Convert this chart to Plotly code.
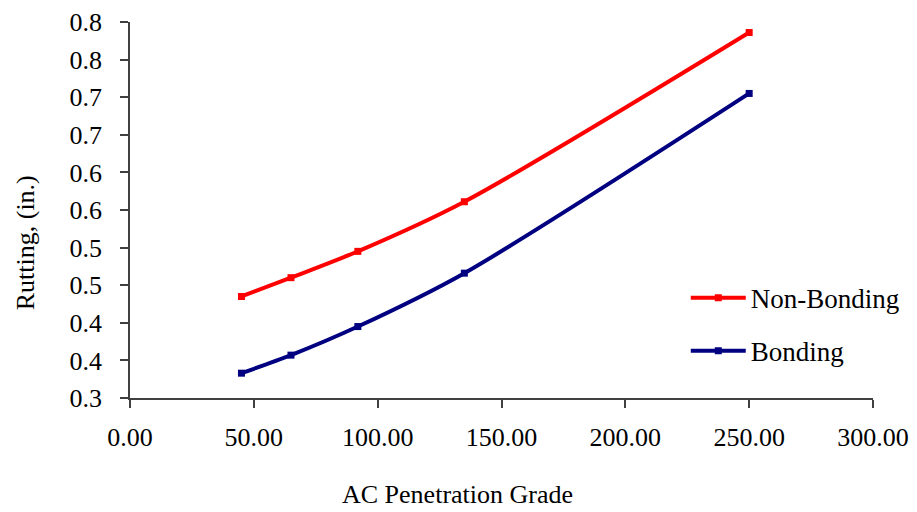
import plotly.graph_objects as go

# Data
grade = [45, 65, 92, 135, 250]
non_bonding = [0.435, 0.460, 0.495, 0.561, 0.786]
bonding = [0.333, 0.357, 0.395, 0.466, 0.705]

x_ticks = [0, 50, 100, 150, 200, 250, 300]
x_tick_text = ["0.00", "50.00", "100.00", "150.00", "200.00", "250.00", "300.00"]
y_ticks = [0.30, 0.35, 0.40, 0.45, 0.50, 0.55, 0.60, 0.65, 0.70, 0.75, 0.80]
y_tick_text = ["0.3", "0.4", "0.4", "0.5", "0.5", "0.6", "0.6", "0.7", "0.7", "0.8", "0.8"]

FONT = "Liberation Serif, Times New Roman, serif"

fig = go.Figure()
fig.add_trace(go.Scatter(
    x=grade, y=non_bonding, name="Non-Bonding", legendgroup="a",
    mode="lines+markers", line=dict(color="#FF0000", width=4, shape="spline", smoothing=0.8),
    marker=dict(symbol="square", size=7, color="#FF0000"),
))
fig.add_trace(go.Scatter(
    x=grade, y=bonding, name="Bonding", legendgroup="b",
    mode="lines+markers", line=dict(color="#000080", width=4, shape="spline", smoothing=0.8),
    marker=dict(symbol="square", size=7, color="#000080"),
))

axis_common = dict(
    showgrid=False, zeroline=False, showline=True, linecolor="#404040", linewidth=1.5,
    ticks="outside", ticklen=8, tickwidth=1.5, tickcolor="#404040", automargin=False,
    ticklabeloverflow="allow",
    tickfont=dict(family=FONT, size=26, color="black"),
)

# page body has an 8px margin, so the figure is sized 8px smaller
fig.update_layout(
    width=909, height=504,
    margin=dict(l=122, r=42, t=14, b=114),
    paper_bgcolor="white", plot_bgcolor="white",
    font=dict(family=FONT, color="black"),
    xaxis=dict(range=[0, 300], tickvals=x_ticks, ticktext=x_tick_text,
               ticklabelstandoff=7, **axis_common),
    yaxis=dict(range=[0.3, 0.8], tickvals=y_ticks, ticktext=y_tick_text,
               ticklabelstandoff=13, **axis_common),
    showlegend=True,
    legend=dict(x=0.748, y=0.195, xanchor="left", yanchor="middle",
                font=dict(family=FONT, size=27, color="black"),
                bgcolor="rgba(0,0,0,0)", itemwidth=55, tracegroupgap=15,
                traceorder="grouped"),
    annotations=[
        dict(text="Rutting, (in.)", xref="paper", yref="paper",
             x=(25 - 130) / 745, y=(398 - 243) / 376, xanchor="center", yanchor="middle",
             textangle=-90, showarrow=False, font=dict(family=FONT, size=26, color="black")),
        dict(text="AC Penetration Grade", xref="paper", yref="paper",
             x=(458 - 130) / 745, y=(398 - 494) / 376, xanchor="center", yanchor="middle",
             showarrow=False, font=dict(family=FONT, size=26, color="black")),
    ],
)

fig.write_html("out.html")
